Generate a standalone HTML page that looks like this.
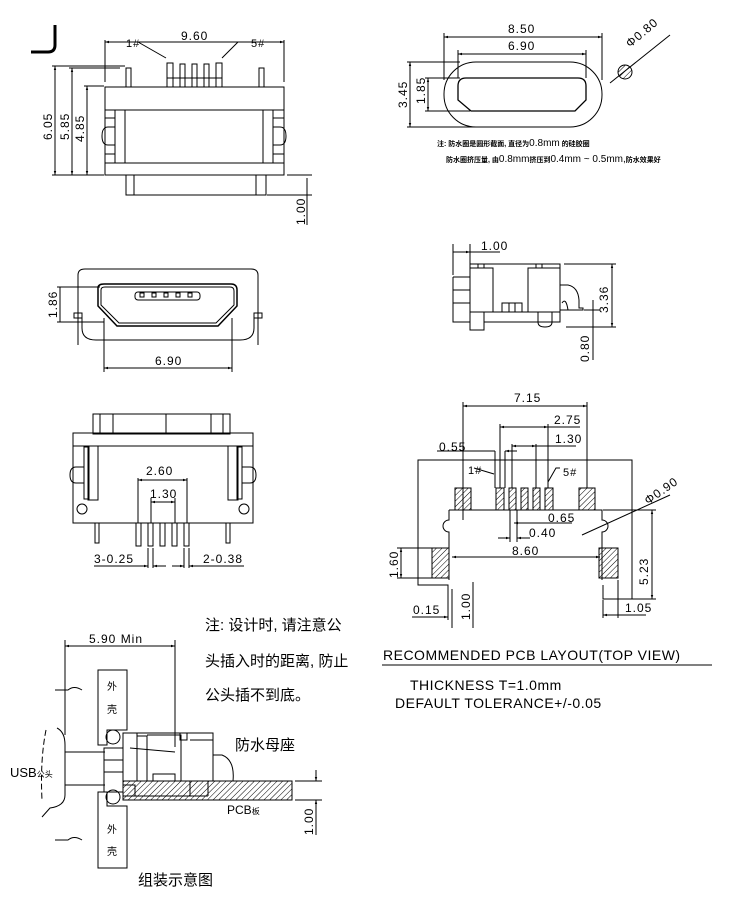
<!DOCTYPE html>
<html><head><meta charset="utf-8"><style>
html,body{margin:0;padding:0;background:#fff;width:750px;height:900px;overflow:hidden}
svg{display:block}
text{font-family:"Liberation Sans","Noto Sans CJK SC",sans-serif;fill:#000}
.t{font-size:12px;letter-spacing:1px}
</style></head><body>
<svg width="750" height="900" viewBox="0 0 750 900" xmlns="http://www.w3.org/2000/svg">
<defs>
<pattern id="h" width="4" height="4" patternUnits="userSpaceOnUse" patternTransform="rotate(45)"><line x1="0" y1="0" x2="0" y2="4" stroke="#000" stroke-width="1"/></pattern>
<marker id="a" viewBox="0 0 10 10" refX="10" refY="5" markerWidth="6" markerHeight="4" orient="auto-start-reverse"><path d="M0,2 L10,5 L0,8z" fill="#000"/></marker>
</defs>
<g fill="none" stroke="#000" stroke-width="1">
<!-- J corner -->
<path d="M55,25 V45 Q55,52 48,52 H31" stroke-width="3"/>
<!-- view 1 -->
<line x1="105" y1="42" x2="284" y2="42" marker-start="url(#a)" marker-end="url(#a)"/>
<line x1="105" y1="40" x2="105" y2="82"/><line x1="284" y1="40" x2="284" y2="82"/>
<polyline points="138,42 166,58"/><polyline points="222,58 238,42 248,42"/>
<rect x="105" y="87" width="179" height="88"/>
<rect x="115" y="110" width="158" height="53"/>
<line x1="125" y1="110" x2="125" y2="163"/><line x1="263" y1="110" x2="263" y2="163"/>
<path d="M115,127 H108 Q102,127 102,136 Q102,145 108,145 H115"/>
<path d="M273,127 H280 Q286,127 286,136 Q286,145 280,145 H273"/>
<rect x="105" y="110" width="10" height="8"/><rect x="273" y="110" width="11" height="8"/>
<rect x="105" y="154" width="10" height="9"/><rect x="273" y="154" width="11" height="9"/>
<rect x="126" y="68" width="5" height="19"/><rect x="259" y="68" width="5" height="19"/>
<rect x="167" y="63" width="6" height="24"/><rect x="180" y="64" width="5" height="23"/><rect x="192" y="64" width="5" height="23"/><rect x="204" y="64" width="5" height="23"/><rect x="216" y="63" width="6" height="24"/>
<line x1="167" y1="78" x2="222" y2="78"/>
<rect x="126" y="175" width="140" height="20"/><line x1="134" y1="175" x2="134" y2="195"/><line x1="256" y1="175" x2="256" y2="195"/>
<line x1="55" y1="66" x2="55" y2="175" marker-start="url(#a)" marker-end="url(#a)"/>
<line x1="72" y1="68" x2="72" y2="175" marker-start="url(#a)" marker-end="url(#a)"/>
<line x1="87" y1="86" x2="87" y2="175" marker-start="url(#a)" marker-end="url(#a)"/>
<line x1="52" y1="66" x2="125" y2="66"/><line x1="69" y1="68" x2="120" y2="68"/><line x1="84" y1="86" x2="104" y2="86"/><line x1="52" y1="175" x2="104" y2="175"/>
<line x1="287" y1="175" x2="312" y2="175"/><line x1="267" y1="195" x2="312" y2="195"/>
<line x1="307" y1="178" x2="307" y2="225"/>
<!-- view 2 -->
<path d="M78,345 V275 Q78,269 85,269 H251 Q258,269 258,275 V345"/>
<path d="M82,318 V328 Q82,340 96,340 H240 Q254,340 254,328 V318"/>
<rect x="74" y="313" width="8" height="5"/><rect x="254" y="313" width="8" height="5"/>
<path d="M98,288 Q98,284 104,284 H231 Q237,284 237,290 V306 L218,326 H117 L98,306Z" stroke-width="1.5"/>
<path d="M101,290 Q101,287 105,287 H230 Q234,287 234,291 V305 L216,323 H119 L101,305Z"/>
<rect x="135" y="292" width="65" height="8" rx="3"/>
<rect x="140" y="293" width="4" height="4"/><rect x="152" y="293" width="4" height="4"/><rect x="164" y="293" width="4" height="4"/><rect x="176" y="293" width="4" height="4"/><rect x="188" y="293" width="4" height="4"/>
<line x1="60" y1="287" x2="60" y2="322"/><line x1="57" y1="287" x2="100" y2="287"/><line x1="57" y1="322" x2="104" y2="322"/>
<line x1="104" y1="318" x2="104" y2="372"/><line x1="232" y1="318" x2="232" y2="372"/>
<line x1="104" y1="368" x2="232" y2="368" marker-start="url(#a)" marker-end="url(#a)"/>
<!-- view 3 (bottom left) -->
<rect x="93" y="414" width="137" height="20"/><line x1="100" y1="414" x2="100" y2="434"/><line x1="113" y1="414" x2="113" y2="434"/><line x1="166" y1="414" x2="166" y2="434"/><line x1="211" y1="414" x2="211" y2="434"/><line x1="223" y1="414" x2="223" y2="434"/>
<rect x="73" y="433" width="180" height="13"/>
<path d="M73,446 V523 H253 V446"/>
<path d="M88,446 V500 H98 V446"/><path d="M238,446 V500 H228 V446"/>
<rect x="84" y="447" width="5" height="52"/><rect x="237" y="447" width="5" height="52"/>
<path d="M84,467 H76 Q70,467 70,475 Q70,483 76,483 H84"/><path d="M242,467 H250 Q256,467 256,475 Q256,483 250,483 H242"/>
<circle cx="82" cy="509" r="5"/><circle cx="244" cy="509" r="5"/>
<rect x="95" y="523" width="4" height="20"/><rect x="226" y="523" width="4" height="20"/>
<rect x="136" y="523" width="5" height="23"/><rect x="148" y="523" width="5" height="23"/><rect x="160" y="523" width="5" height="23"/><rect x="172" y="523" width="5" height="23"/><rect x="184" y="523" width="5" height="23"/>
<line x1="138" y1="478" x2="138" y2="523"/><line x1="187" y1="478" x2="187" y2="523"/>
<line x1="138" y1="480" x2="187" y2="480" marker-start="url(#a)" marker-end="url(#a)"/>
<line x1="151" y1="498" x2="151" y2="523"/><line x1="175" y1="498" x2="175" y2="523"/>
<line x1="151" y1="502" x2="175" y2="502" marker-start="url(#a)" marker-end="url(#a)"/>
<line x1="148" y1="548" x2="148" y2="568"/><line x1="153" y1="548" x2="153" y2="568"/><line x1="184" y1="548" x2="184" y2="568"/><line x1="189" y1="548" x2="189" y2="568"/>
<line x1="94" y1="566" x2="148" y2="566" marker-end="url(#a)"/><line x1="153" y1="566" x2="166" y2="566" marker-start="url(#a)"/>
<line x1="172" y1="566" x2="184" y2="566" marker-end="url(#a)"/><line x1="189" y1="566" x2="244" y2="566" marker-start="url(#a)"/>
<!-- top right seal -->
<rect x="444" y="62" width="158" height="65" rx="32"/>
<path d="M458,86 Q458,78 466,78 H578 Q586,78 586,86 V100 L575,111 H471 L458,100Z" stroke-width="1.3"/>
<line x1="444" y1="33" x2="444" y2="80"/><line x1="602" y1="33" x2="602" y2="80"/>
<line x1="444" y1="37" x2="602" y2="37" marker-start="url(#a)" marker-end="url(#a)"/>
<line x1="458" y1="50" x2="458" y2="78"/><line x1="586" y1="50" x2="586" y2="78"/>
<line x1="458" y1="54" x2="586" y2="54" marker-start="url(#a)" marker-end="url(#a)"/>
<line x1="407" y1="62" x2="460" y2="62"/><line x1="407" y1="127" x2="520" y2="127"/>
<line x1="410" y1="62" x2="410" y2="127" marker-start="url(#a)" marker-end="url(#a)"/>
<line x1="425" y1="78" x2="460" y2="78"/><line x1="425" y1="111" x2="470" y2="111"/>
<line x1="428" y1="78" x2="428" y2="111" marker-start="url(#a)" marker-end="url(#a)"/>
<circle cx="625" cy="72" r="7" fill="url(#h)"/>
<line x1="610" y1="83" x2="670" y2="35"/>
<!-- side view -->
<line x1="453" y1="244" x2="453" y2="275"/><line x1="470" y1="244" x2="470" y2="264"/>
<line x1="453" y1="252" x2="470" y2="252" marker-end="url(#a)"/><line x1="470" y1="252" x2="500" y2="252"/>
<rect x="470" y="264" width="90" height="48"/>
<rect x="470" y="268" width="23" height="44"/><rect x="528" y="268" width="32" height="44"/>
<rect x="478" y="264" width="6" height="4"/><rect x="536" y="264" width="6" height="4"/>
<path d="M470,312 V330 H484 V322 H560 V312"/><line x1="484" y1="312" x2="484" y2="322"/>
<path d="M453,277 H470 M453,277 V322 H470 M453,290 H470 M453,303 H470"/>
<rect x="502" y="303" width="20" height="9"/><line x1="509" y1="303" x2="509" y2="312"/><line x1="515" y1="303" x2="515" y2="312"/>
<path d="M538,312 V322 Q538,327 545,327 Q552,327 552,322 V312"/>
<path d="M560,285 H568 Q578,287 579,300 V308 H583 V310 H560"/>
<path d="M562,303 Q566,297 568,310"/>
<line x1="564" y1="264" x2="616" y2="264"/><line x1="566" y1="327" x2="616" y2="327"/><line x1="584" y1="310" x2="600" y2="310"/>
<line x1="612" y1="264" x2="612" y2="327" marker-start="url(#a)" marker-end="url(#a)"/>
<line x1="593" y1="300" x2="593" y2="360"/>
<!-- PCB layout -->
<polyline points="448,600 448,585 418,585 418,460 632,460 632,599 603,599 603,585"/>
<line x1="452" y1="589" x2="452" y2="628"/>
<rect x="455" y="488" width="16" height="22" fill="url(#h)"/>
<rect x="496" y="488" width="8" height="22" fill="url(#h)"/>
<rect x="509" y="488" width="7" height="22" fill="url(#h)"/>
<rect x="521" y="488" width="7" height="22" fill="url(#h)"/>
<rect x="533" y="488" width="7" height="22" fill="url(#h)"/>
<rect x="545" y="488" width="8" height="22" fill="url(#h)"/>
<rect x="579" y="488" width="16" height="22" fill="url(#h)"/>
<rect x="432" y="548" width="17" height="30" fill="url(#h)"/>
<rect x="599" y="548" width="19" height="30" fill="url(#h)"/>
<path d="M449,510 H602 V520 A6,6 0 0 1 602,532 V580 M449,510 V520 A6,6 0 0 0 449,532 V580"/>
<line x1="463" y1="402" x2="463" y2="520"/><line x1="587" y1="402" x2="587" y2="488"/>
<line x1="463" y1="406" x2="587" y2="406" marker-start="url(#a)" marker-end="url(#a)"/>
<line x1="500" y1="424" x2="500" y2="488"/><line x1="548" y1="424" x2="548" y2="488"/>
<line x1="500" y1="427" x2="548" y2="427" marker-start="url(#a)" marker-end="url(#a)"/><line x1="548" y1="427" x2="580" y2="427"/>
<line x1="512" y1="444" x2="512" y2="488"/><line x1="536" y1="444" x2="536" y2="488"/>
<line x1="512" y1="446" x2="536" y2="446" marker-start="url(#a)" marker-end="url(#a)"/><line x1="536" y1="446" x2="576" y2="446"/>
<line x1="495" y1="451" x2="495" y2="488"/><line x1="505" y1="451" x2="505" y2="488"/>
<line x1="437" y1="451" x2="495" y2="451"/><line x1="505" y1="451" x2="517" y2="451" marker-start="url(#a)"/>
<line x1="474" y1="468" x2="494" y2="474" /><path d="M548,482 L556,468 H560"/>
<line x1="510" y1="510" x2="510" y2="542"/><line x1="517" y1="510" x2="517" y2="542"/>
<line x1="514" y1="523" x2="572" y2="523" marker-start="url(#a)"/>
<line x1="498" y1="538" x2="510" y2="538" marker-end="url(#a)"/><line x1="517" y1="538" x2="530" y2="538" marker-start="url(#a)"/>
<line x1="452" y1="557" x2="600" y2="557" marker-start="url(#a)" marker-end="url(#a)"/>
<line x1="582" y1="535" x2="670" y2="495"/>
<line x1="603" y1="510" x2="656" y2="510"/><line x1="608" y1="599" x2="656" y2="599"/>
<line x1="652" y1="510" x2="652" y2="599" marker-start="url(#a)" marker-end="url(#a)"/>
<line x1="397" y1="548" x2="432" y2="548"/><line x1="397" y1="578" x2="432" y2="578"/>
<line x1="401" y1="548" x2="401" y2="578" marker-start="url(#a)" marker-end="url(#a)"/>
<line x1="448" y1="588" x2="448" y2="620"/>
<line x1="412" y1="617" x2="448" y2="617" marker-end="url(#a)"/>
<line x1="473" y1="582" x2="473" y2="628"/>
<line x1="603" y1="600" x2="603" y2="618"/><line x1="618" y1="580" x2="618" y2="618"/>
<line x1="603" y1="615" x2="618" y2="615" marker-start="url(#a)"/><line x1="618" y1="615" x2="646" y2="615"/>
<line x1="382" y1="665" x2="712" y2="665"/>
<!-- assembly -->
<line x1="65" y1="646" x2="175" y2="646" marker-start="url(#a)" marker-end="url(#a)"/>
<line x1="65" y1="640" x2="65" y2="735"/><line x1="175" y1="640" x2="175" y2="747"/>
<polygon points="98,670 127,670 127,730 107,730 107,745 98,745"/>
<polygon points="98,792 107,792 107,806 127,806 127,868 98,868"/>
<circle cx="113" cy="737" r="7"/><circle cx="113" cy="797" r="7"/>
<line x1="65" y1="752" x2="105" y2="752"/><line x1="65" y1="785" x2="105" y2="785"/>
<path d="M57,728 Q65,732 65,745 V795 Q65,806 50,808 L42,817" stroke-dasharray="0"/>
<path d="M46,730 Q40,760 42,800" stroke-dasharray="6,3"/>
<path d="M55,690 H68 Q74,685 82,690 M55,840 H68 Q74,835 82,840"/>
<rect x="104" y="748" width="19" height="44"/><line x1="104" y1="760" x2="123" y2="760"/><line x1="104" y1="772" x2="123" y2="772"/>
<path d="M123,733 H213 V781 H123Z"/>
<rect x="137" y="736" width="10" height="45"/>
<path d="M147,735 H181 V781 M181,735 V735"/>
<path d="M180,733 V740 H187 V733 M137,733 V740 M190,740 H213"/>
<line x1="130" y1="748" x2="175" y2="752"/>
<rect x="153" y="774" width="22" height="7"/>
<path d="M213,755 H222 Q235,760 233,781"/>
<rect x="123" y="781" width="169" height="19" fill="url(#h)"/>
<rect x="123" y="785" width="12" height="11"/><line x1="190" y1="781" x2="190" y2="796"/><line x1="208" y1="781" x2="208" y2="796"/><line x1="123" y1="796" x2="208" y2="796"/>
<line x1="295" y1="781" x2="322" y2="781"/><line x1="295" y1="800" x2="322" y2="800"/>
<line x1="316" y1="770" x2="316" y2="781" marker-end="url(#a)"/><line x1="316" y1="800" x2="316" y2="835" marker-start="url(#a)"/>
</g>
<!-- texts -->
<g class="t">
<text x="181" y="40">9.60</text>
<text x="126" y="47" font-size="11">1#</text>
<text x="251" y="47" font-size="11">5#</text>
<text transform="translate(52,140) rotate(-90)">6.05</text>
<text transform="translate(69,140) rotate(-90)">5.85</text>
<text transform="translate(84,142) rotate(-90)">4.85</text>
<text transform="translate(305,225) rotate(-90)">1.00</text>
<text transform="translate(57,318) rotate(-90)">1.86</text>
<text x="155" y="365">6.90</text>
<text x="146" y="475">2.60</text>
<text x="150" y="498">1.30</text>
<text x="94" y="563">3-0.25</text>
<text x="203" y="563">2-0.38</text>
<text x="508" y="33">8.50</text>
<text x="508" y="50">6.90</text>
<text transform="translate(407,108) rotate(-90)">3.45</text>
<text transform="translate(425,104) rotate(-90)">1.85</text>
<text transform="translate(630,48) rotate(-40)">Φ0.80</text>
<text x="481" y="250">1.00</text>
<text transform="translate(608,313) rotate(-90)">3.36</text>
<text transform="translate(589,362) rotate(-90)">0.80</text>
<text x="514" y="402">7.15</text>
<text x="554" y="424">2.75</text>
<text x="555" y="443">1.30</text>
<text x="439" y="451">0.55</text>
<text x="468" y="474" font-size="11">1#</text>
<text x="563" y="476" font-size="11">5#</text>
<text x="548" y="522">0.65</text>
<text x="529" y="537">0.40</text>
<text x="512" y="555">8.60</text>
<text transform="translate(648,505) rotate(-35)">Φ0.90</text>
<text transform="translate(648,585) rotate(-90)">5.23</text>
<text transform="translate(398,578) rotate(-90)">1.60</text>
<text x="413" y="614">0.15</text>
<text transform="translate(470,620) rotate(-90)">1.00</text>
<text x="625" y="612">1.05</text>
<text x="89" y="643" font-size="12">5.90  Min</text>
<text transform="translate(313,835) rotate(-90)">1.00</text>
</g>
<text x="437" y="146" font-size="7" font-weight="bold">注: 防水圈是圆形截面, 直径为<tspan font-size="10" font-weight="normal">0.8mm</tspan> 的硅胶圈</text>
<text x="446" y="162" font-size="7" font-weight="bold">防水圈挤压量, 由<tspan font-size="10" font-weight="normal">0.8mm</tspan>挤压到<tspan font-size="10" font-weight="normal">0.4mm  ~  0.5mm,</tspan>防水效果好</text>
<text x="383" y="660" font-size="14" letter-spacing="0.5">RECOMMENDED PCB LAYOUT(TOP VIEW)</text>
<text x="410" y="690" font-size="14" letter-spacing="0.5">THICKNESS T=1.0mm</text>
<text x="395" y="708" font-size="14" letter-spacing="0.5">DEFAULT TOLERANCE+/-0.05</text>
<text x="205" y="630" font-size="15">注: 设计时, 请注意公</text>
<text x="205" y="666" font-size="15">头插入时的距离, 防止</text>
<text x="205" y="700" font-size="15">公头插不到底。</text>
<text x="235" y="750" font-size="15">防水母座</text>
<text x="138" y="885" font-size="15">组装示意图</text>
<text x="107" y="690" font-size="10">外</text>
<text x="107" y="713" font-size="10">壳</text>
<text x="107" y="833" font-size="10">外</text>
<text x="107" y="855" font-size="10">壳</text>
<text x="10" y="777" font-size="13">USB<tspan font-size="8">公头</tspan></text>
<text x="227" y="814" font-size="12">PCB<tspan font-size="8">板</tspan></text>
</svg>
</body></html>
